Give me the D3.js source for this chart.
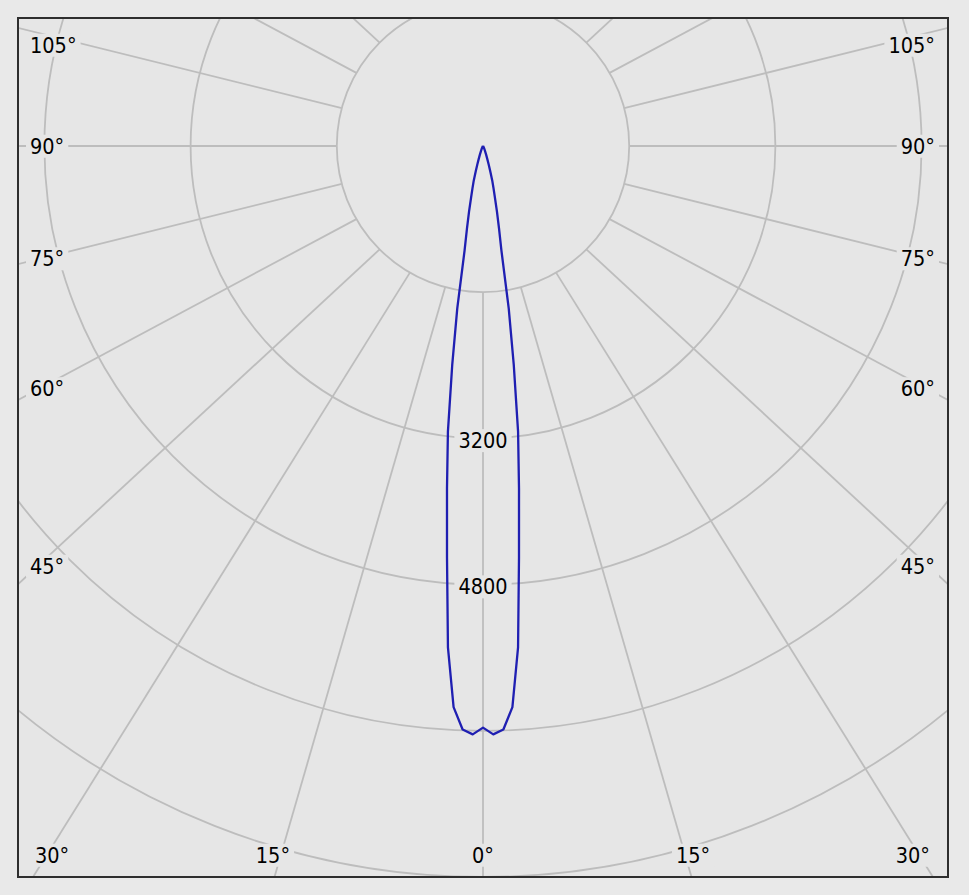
<!DOCTYPE html>
<html>
<head>
<meta charset="utf-8">
<script src="https://cdn.jsdelivr.net/npm/d3@7"></script>
<style>
  html, body { margin: 0; padding: 0; background: #e9e9e9; }
  svg { display: block; }
  text { font-family: 'DejaVu Sans Condensed', 'DejaVu Sans', sans-serif; font-stretch: condensed; fill: #000; }
</style>
</head>
<body>
<svg id="chart" width="969" height="895"></svg>
<script>
// ---- data (luminous intensity, cd, vs. gamma angle in degrees; mirrored both sides) ----
const gammaDeg   = [0, 1, 2, 3, 4, 5, 6, 7, 8, 9, 10, 11, 12, 13, 14, 15, 16, 17, 18, 20, 22, 25, 30, 40, 50, 90];
const intensity  = [6365, 6440, 6390, 6150, 5500, 4520, 3770, 3150, 2420, 1800, 1160, 920, 735, 580, 475, 390, 290, 215, 160, 100, 60, 30, 12, 4, 0, 0];
const ringValues = [1600, 3200, 4800, 6400, 8000, 9600];
const ringLabels = ["3200", "4800"];
const sideLabelAngles   = [45, 60, 75, 90, 105];
const bottomLabelAngles = [0, 15, 30];
const spokeAngles = d3.range(0, 360, 15);

// ---- layout ----
const W = 969, H = 895;
const frame = { x: 18, y: 18, w: 930, h: 859 };
const cx = 483, cy = 146;
const spokeStretch = 1.08;
const fontSize = 21.5;

const svg = d3.select("#chart");
const rScale = d3.scaleLinear().domain([0, 8000]).range([0, 731]);
const rad = d => d * Math.PI / 180;

svg.append("rect").attr("x", 0).attr("y", 0).attr("width", W).attr("height", H).attr("fill", "#e9e9e9");
svg.append("rect").attr("x", frame.x).attr("y", frame.y).attr("width", frame.w).attr("height", frame.h).attr("fill", "#e6e6e6");

svg.append("clipPath").attr("id", "clip")
  .append("rect").attr("x", frame.x).attr("y", frame.y).attr("width", frame.w).attr("height", frame.h);

const grid = svg.append("g").attr("clip-path", "url(#clip)");
const gridColor = "#bdbdbd";

// rings
grid.selectAll("circle.ring").data(ringValues).join("circle")
  .attr("class", "ring")
  .attr("cx", cx).attr("cy", cy).attr("r", d => rScale(d))
  .attr("fill", "none").attr("stroke", gridColor).attr("stroke-width", 1.8);

// spokes (start at inner ring)
const r0 = rScale(ringValues[0]);
grid.selectAll("line.spoke").data(spokeAngles).join("line")
  .attr("class", "spoke")
  .attr("x1", a => cx + r0 * Math.sin(rad(a)))
  .attr("y1", a => cy + r0 * Math.cos(rad(a)))
  .attr("x2", a => cx + r0 * Math.sin(rad(a)) + 1500 * spokeStretch * Math.sin(rad(a)))
  .attr("y2", a => cy + r0 * Math.cos(rad(a)) + 1500 * Math.cos(rad(a)))
  .attr("stroke", gridColor).attr("stroke-width", 1.8);

// labels with background masks
const labelLayer = svg.append("g");
function addLabel(txt, x, y, anchor, clampX) {
  const g = labelLayer.append("g");
  const bg = g.append("rect").attr("fill", "#e6e6e6");
  const t = g.append("text")
    .attr("x", x).attr("y", y + 0.36 * fontSize)
    .attr("text-anchor", anchor)
    .attr("font-size", fontSize)
    .text(txt);
  let bb = t.node().getBBox();
  if (clampX) {
    let shift = 0;
    if (bb.x < clampX[0]) shift = clampX[0] - bb.x;
    if (bb.x + bb.width > clampX[1]) shift = clampX[1] - (bb.x + bb.width);
    t.attr("x", x + shift);
    bb = t.node().getBBox();
  }
  bg.attr("x", bb.x - 4).attr("y", bb.y + 1).attr("width", bb.width + 8).attr("height", bb.height - 2);
}

// ring value labels on 0° axis
ringLabels.forEach(v => addLabel(v, cx, cy + rScale(+v) + 2, "middle"));

// side angle labels
sideLabelAngles.forEach(a => {
  let y = cy + 420 / Math.tan(rad(a));
  y = Math.max(45, y);
  addLabel(a + "°", 30, y, "start");
  addLabel(a + "°", 935, y, "end");
});
// bottom angle labels
bottomLabelAngles.forEach(a => {
  const y = 855;
  const dx = 784 * Math.tan(rad(a));
  addLabel(a + "°", cx - dx, y, "middle", [35, 930]);
  if (a !== 0) addLabel(a + "°", cx + dx, y, "middle", [35, 930]);
});

// intensity curve (left side mirrored, then right side)
const pts = [];
for (let i = gammaDeg.length - 1; i >= 0; i--) pts.push({ g: -gammaDeg[i], v: intensity[i] });
for (let i = 1; i < gammaDeg.length; i++) pts.push({ g: gammaDeg[i], v: intensity[i] });

const line = d3.lineRadial()
  .angle(d => Math.PI - rad(d.g))
  .radius(d => rScale(d.v))
  .curve(d3.curveLinear);

svg.append("g").attr("transform", `translate(${cx},${cy})`)
  .append("path").datum(pts)
  .attr("d", line)
  .attr("fill", "none")
  .attr("stroke", "#1f1fb2")
  .attr("stroke-width", 2.3)
  .attr("stroke-linejoin", "round");

// frame
svg.append("rect").attr("x", frame.x).attr("y", frame.y).attr("width", frame.w).attr("height", frame.h)
  .attr("fill", "none").attr("stroke", "#2e2e2e").attr("stroke-width", 2);
</script>
</body>
</html>
